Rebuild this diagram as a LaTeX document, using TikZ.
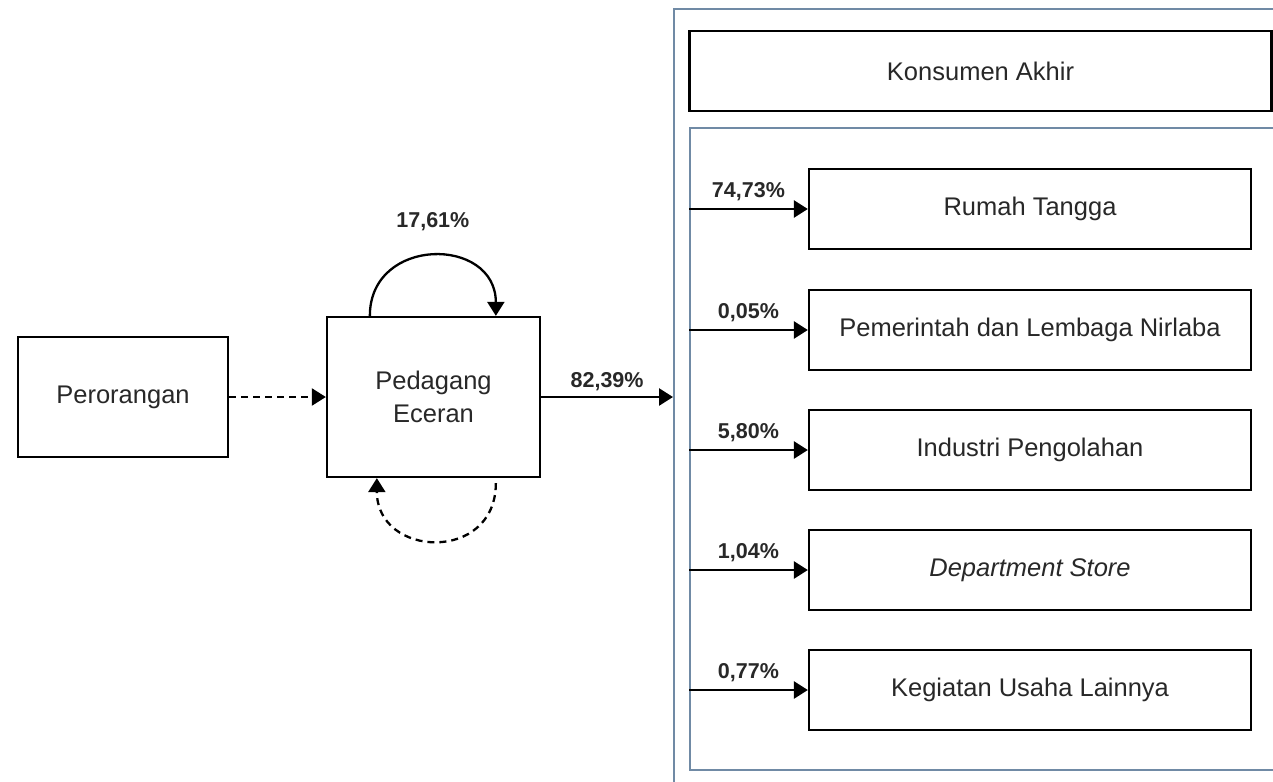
\documentclass[tikz,border=0pt]{standalone}
\usepackage{fontspec}
\setmainfont{Liberation Sans}
\usetikzlibrary{arrows.meta,calc}
\definecolor{frameblue}{RGB}{112,138,165}
\definecolor{ink}{RGB}{40,40,40}
\begin{document}
\begin{tikzpicture}[x=1pt,y=-1pt,
  box/.style={draw=black,line width=2.3pt,fill=white,text=ink,
    font=\fontsize{25.5}{33}\selectfont,align=center,inner sep=0pt},
  rowbox/.style={box,minimum width=442pt,minimum height=80pt},
  frame/.style={draw=frameblue,line width=2pt,inner sep=0pt},
  tip/.style={-{Triangle[length=14pt,width=17pt]}},
  flow/.style={draw=black,line width=2.6pt,tip},
  loopflow/.style={draw=black,line width=2.3pt,tip},
  dashflow/.style={draw=black,line width=2.3pt,dash pattern=on 7pt off 5pt,tip},
  pct/.style={text=ink,font=\fontsize{21.5}{26}\selectfont\bfseries,inner sep=0pt},
]
\useasboundingbox (0,0) rectangle (1273,781);
\clip (0,0) rectangle (1273,781);
\fill[white] (0,0) rectangle (1273,781);

% consumer group frames
\node[frame,minimum width=626pt,minimum height=791pt] (outer) at (987,404.5) {};
\node[box,minimum width=582pt,minimum height=80pt] (akhir) at (980.5,71) {Konsumen Akhir};
\node[frame,minimum width=600pt,minimum height=642pt] (grp) at (990,449) {};

% consumer categories
\node[rowbox] (r1) at (1030,209) {Rumah Tangga};
\node[rowbox] (r2) at (1030,330) {Pemerintah dan Lembaga Nirlaba};
\node[rowbox] (r3) at (1030,450) {Industri Pengolahan};
\node[rowbox] (r4) at (1030,570) {\itshape Department Store};
\node[rowbox] (r5) at (1030,690) {Kegiatan Usaha Lainnya};

% traders
\node[box,minimum width=210pt,minimum height=120pt] (per) at (123,397) {Perorangan};
\node[box,minimum width=213pt,minimum height=160pt] (ped) at (433.5,397) {Pedagang\\Eceran};

% flows
\draw[dashflow] (per.east) -- (ped.west);
\draw[flow] (ped.east) -- (outer.west |- ped.east)
  node[pct,midway,above=5pt] {82,39\%};

\coordinate (lt1) at ($(ped.north west)+(44,0)$);
\coordinate (lt2) at ($(ped.north west)+(170,0)$);
\draw[loopflow] (lt1) .. controls +(0,-80) and +(0,-80) .. (lt2)
  node[pct,midway,above=24pt] {17,61\%};

\coordinate (lb1) at ($(ped.south west)+(170,5)$);
\coordinate (lb2) at ($(ped.south west)+(51,0)$);
\draw[dashflow] (lb1) .. controls +(0,80) and +(0,80) .. (lb2);

\draw[flow] (grp.west |- r1.west) -- (r1.west) node[pct,midway,above=7pt] {74,73\%};
\draw[flow] (grp.west |- r2.west) -- (r2.west) node[pct,midway,above=7pt] {0,05\%};
\draw[flow] (grp.west |- r3.west) -- (r3.west) node[pct,midway,above=7pt] {5,80\%};
\draw[flow] (grp.west |- r4.west) -- (r4.west) node[pct,midway,above=7pt] {1,04\%};
\draw[flow] (grp.west |- r5.west) -- (r5.west) node[pct,midway,above=7pt] {0,77\%};
\end{tikzpicture}
\end{document}
